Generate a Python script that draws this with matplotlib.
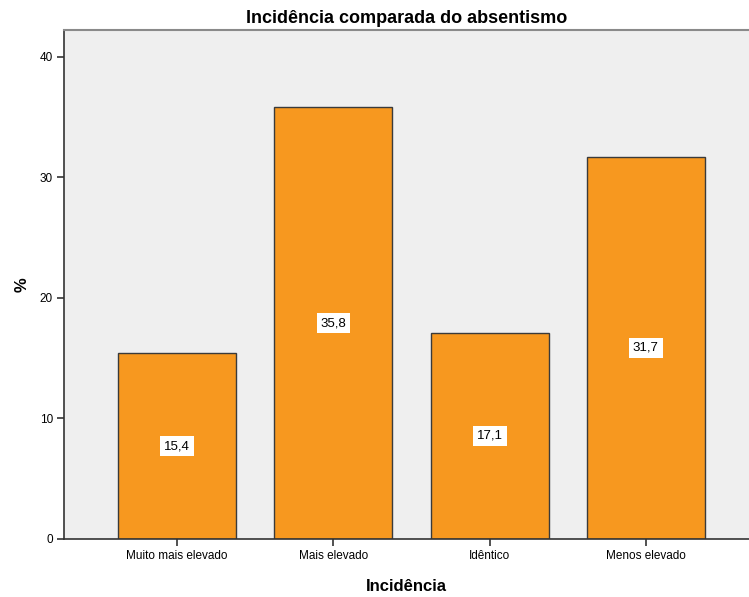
import matplotlib
matplotlib.use("Agg")
import matplotlib.pyplot as plt

plt.rcParams['font.family'] = ['Liberation Sans', 'DejaVu Sans']

categories = ["Muito mais elevado", "Mais elevado", "Idêntico", "Menos elevado"]
percent = [15.4, 35.8, 17.1, 31.7]
y_ticks = [0, 10, 20, 30, 40]

fig = plt.figure(figsize=(7.49, 5.97), dpi=100)
ax = fig.add_axes([0.0854, 0.0972, 0.9146, 0.8525])
ax.set_facecolor("#efefef")

x = range(len(categories))
ax.bar(x, percent, width=0.756, color="#f7981f", edgecolor="#3a3a3a",
       linewidth=1.0, zorder=2)

# value labels in white boxes at half bar height
for xi, v in zip(x, percent):
    ax.text(xi, v / 2, f"{v:.1f}".replace(".", ","), ha="center", va="center",
            fontsize=9.5, color="black", zorder=3,
            bbox=dict(boxstyle="square,pad=0.3", facecolor="white",
                      edgecolor="none"))

ax.set_xlim(-0.724, 3.66)
ax.set_ylim(0, 42.2)
ax.set_xticks(list(x))
ax.set_xticklabels(categories, fontsize=8.5)
ax.set_yticks(y_ticks)
ax.set_yticklabels([str(t) for t in y_ticks], fontsize=8.5)
ax.tick_params(axis="both", direction="out", length=5, width=1.2,
               color="#333333", pad=3)

ax.spines["right"].set_visible(False)
ax.spines["top"].set_color("#8a8a8a")
ax.spines["top"].set_linewidth(1.5)
for s in ("left", "bottom"):
    ax.spines[s].set_color("#333333")
    ax.spines[s].set_linewidth(1.2)

ax.set_title("Incidência comparada do absentismo", fontsize=13,
             fontweight="bold", pad=5)
ax.set_xlabel("Incidência", fontsize=12, fontweight="bold", labelpad=12)
ax.set_ylabel("%", fontsize=12, fontweight="bold", labelpad=7)

fig.savefig("out.png", dpi=100)
